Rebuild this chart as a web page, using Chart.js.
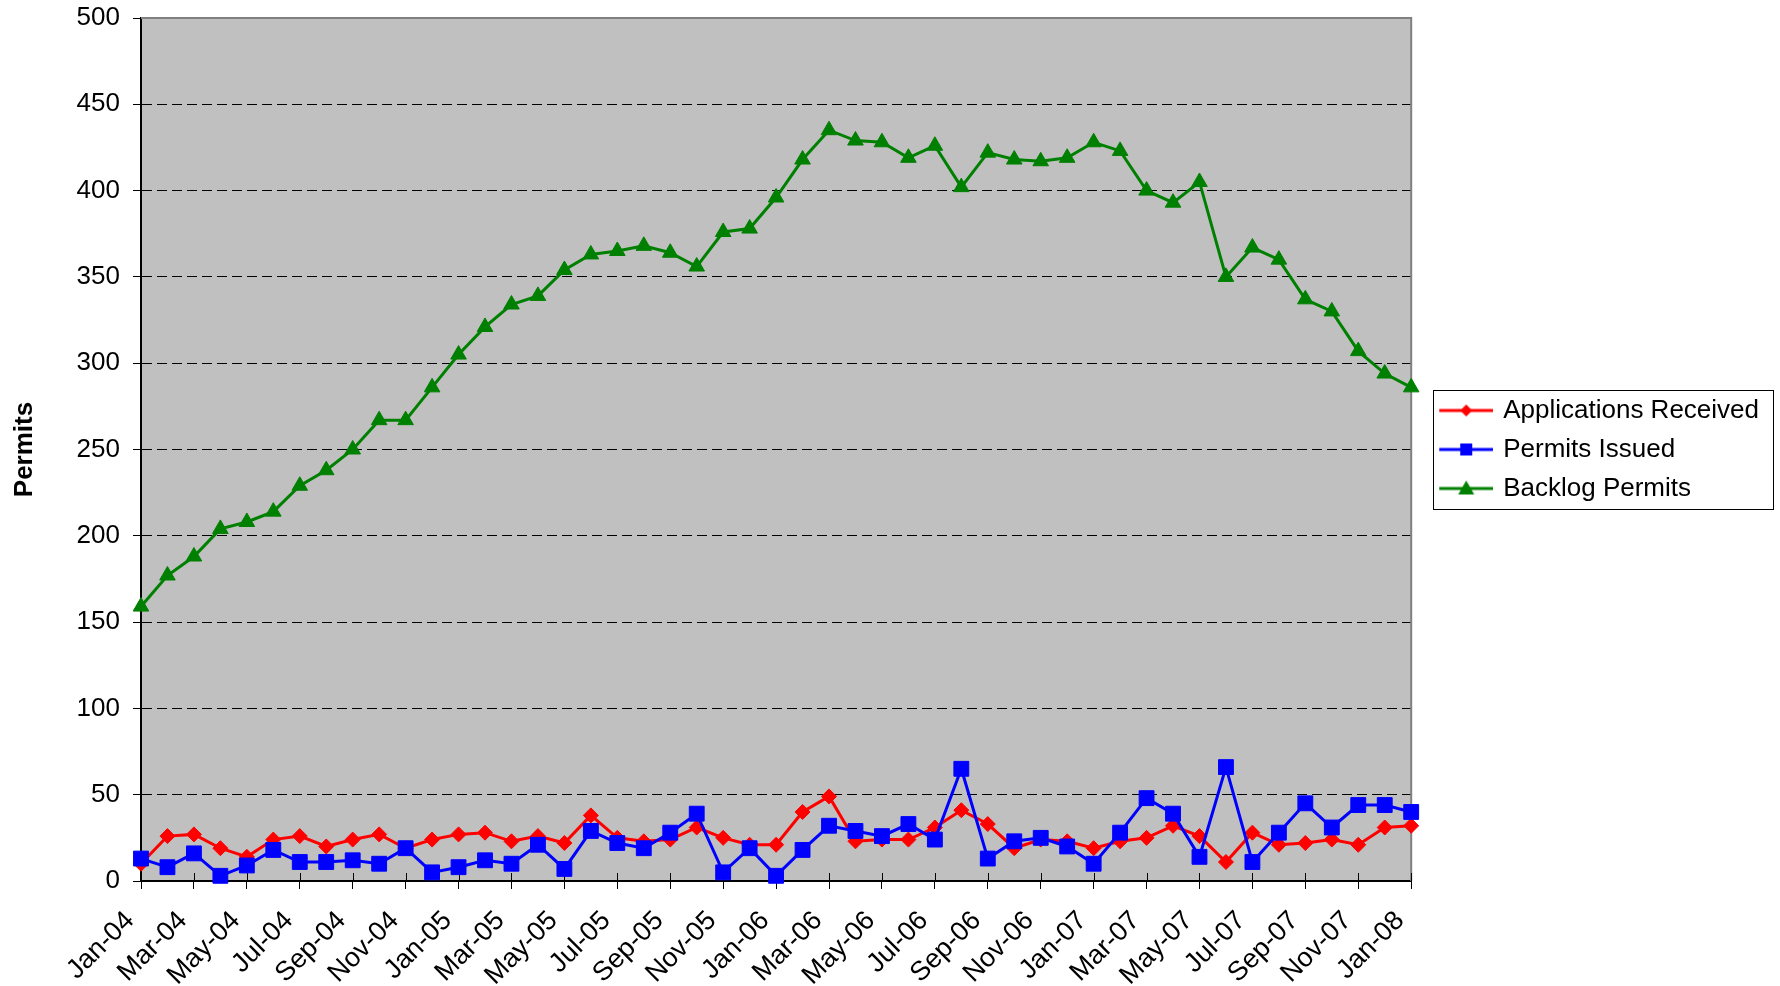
<!DOCTYPE html>
<html>
<head>
<meta charset="utf-8">
<script src="https://cdn.jsdelivr.net/npm/chart.js@4.4.1/dist/chart.umd.min.js"></script>
<style>
  html, body { margin: 0; padding: 0; background: #fff; }
  #permitsCanvas { display: block; }
</style>
</head>
<body>
<canvas id="permitsCanvas" width="1780" height="986"></canvas>
<script>
const months = [
  "Jan-04", "Feb-04", "Mar-04", "Apr-04", "May-04", "Jun-04", "Jul-04", "Aug-04", "Sep-04", "Oct-04", "Nov-04", "Dec-04",
  "Jan-05", "Feb-05", "Mar-05", "Apr-05", "May-05", "Jun-05", "Jul-05", "Aug-05", "Sep-05", "Oct-05", "Nov-05", "Dec-05",
  "Jan-06", "Feb-06", "Mar-06", "Apr-06", "May-06", "Jun-06", "Jul-06", "Aug-06", "Sep-06", "Oct-06", "Nov-06", "Dec-06",
  "Jan-07", "Feb-07", "Mar-07", "Apr-07", "May-07", "Jun-07", "Jul-07", "Aug-07", "Sep-07", "Oct-07", "Nov-07", "Dec-07",
  "Jan-08"
];

const applicationsReceived = [
  10, 26, 27, 19, 14, 24, 26, 20, 24, 27, 19, 24,
  27, 28, 23, 26, 22, 38, 25, 23, 24, 31, 25, 21,
  21, 40, 49, 23, 24, 24, 31, 41, 33, 19, 24, 23,
  19, 23, 25, 32, 26, 11, 28, 21, 22, 24, 21, 31,
  32
];

const permitsIssued = [
  13, 8, 16, 3, 9, 18, 11, 11, 12, 10, 19, 5,
  8, 12, 10, 21, 7, 29, 22, 19, 28, 39, 5, 19,
  3, 18, 32, 29, 26, 33, 24, 65, 13, 23, 25, 20,
  10, 28, 48, 39, 14, 66, 11, 28, 45, 31, 44, 44,
  40
];

const backlogPermits = [
  159, 177, 188, 204, 208, 214, 229, 238, 250, 267, 267, 286,
  305, 321, 334, 339, 354, 363, 365, 368, 364, 356, 376, 378,
  396, 418, 435, 429, 428, 419, 426, 402, 422, 418, 417, 419,
  428, 423, 400, 393, 405, 350, 367, 360, 337, 330, 307, 294,
  286
];

const yTicks = [0, 50, 100, 150, 200, 250, 300, 350, 400, 450, 500];

const FONT = "'Liberation Sans', Arial, sans-serif";

// small line + marker picture used as the legend symbol
function legendIcon(color, shape) {
  const c = document.createElement("canvas");
  c.width = 72;
  c.height = 20;
  const g = c.getContext("2d");
  g.strokeStyle = color;
  g.fillStyle = color;
  g.lineWidth = 3;
  g.beginPath();
  g.moveTo(18, 10);
  g.lineTo(72, 10);
  g.stroke();
  const cx = 45, cy = 10;
  g.beginPath();
  if (shape === "diamond") {
    g.moveTo(cx, cy - 6); g.lineTo(cx + 6, cy); g.lineTo(cx, cy + 6); g.lineTo(cx - 6, cy);
  } else if (shape === "square") {
    g.rect(cx - 6, cy - 6, 12, 12);
  } else {
    g.moveTo(cx, cy - 8); g.lineTo(cx + 8, cy + 6); g.lineTo(cx - 8, cy + 6);
  }
  g.closePath();
  g.fill();
  return c;
}

const icons = [
  legendIcon("#FF0000", "diamond"),
  legendIcon("#0000FF", "square"),
  legendIcon("#008000", "triangle")
];

const plotFrame = {
  id: "plotFrame",
  beforeDraw(chart) {
    const { ctx, chartArea: a } = chart;
    ctx.save();
    ctx.fillStyle = "#C0C0C0";
    ctx.fillRect(a.left, a.top, a.width, a.height);
    ctx.restore();
  },
  beforeDatasetsDraw(chart) {
    const { ctx, chartArea: a } = chart;
    const x = chart.scales.x;
    ctx.save();
    ctx.strokeStyle = "#808080";
    ctx.lineWidth = 2;
    ctx.beginPath();
    ctx.moveTo(a.left, a.top);
    ctx.lineTo(a.right, a.top);
    ctx.lineTo(a.right, a.bottom);
    ctx.stroke();
    // the x tick marks cross the axis
    ctx.strokeStyle = "#000";
    ctx.lineWidth = 1;
    x.ticks.forEach((t, i) => {
      const px = Math.round(x.getPixelForTick(i)) + 0.5;
      ctx.beginPath();
      ctx.moveTo(px, a.bottom - 8);
      ctx.lineTo(px, a.bottom);
      ctx.stroke();
    });
    ctx.restore();
  },
  afterDraw(chart) {
    const boxes = chart.legend.legendHitBoxes;
    if (!boxes || !boxes.length) return;
    const { ctx } = chart;
    const first = boxes[0], last = boxes[boxes.length - 1];
    const right = Math.max(...boxes.map(b => b.left + b.width));
    const l = first.left + 9, t = first.top - 8;
    ctx.save();
    ctx.strokeStyle = "#000";
    ctx.lineWidth = 1;
    ctx.strokeRect(Math.round(l) + 0.5, Math.round(t) + 0.5,
      Math.round(right + 14 - l), Math.round(last.top + last.height + 7 - t));
    ctx.restore();
  }
};

function series(label, data, color, style, radius, order) {
  return {
    label: label,
    data: data,
    borderColor: color,
    backgroundColor: color,
    borderWidth: 3,
    pointStyle: style,
    pointRadius: radius,
    pointHoverRadius: radius,
    pointBackgroundColor: color,
    pointBorderColor: color,
    pointBorderWidth: 1,
    tension: 0,
    clip: false,
    order: order
  };
}

const permitsChart = new Chart(document.getElementById("permitsCanvas"), {
  type: "line",
  data: {
    labels: months,
    datasets: [
      series("Applications Received", applicationsReceived, "#FF0000", "rectRot", 7.5, 3),
      series("Permits Issued", permitsIssued, "#0000FF", "rect", 10.5, 2),
      series("Backlog Permits", backlogPermits, "#008000", "triangle", 9, 1)
    ]
  },
  plugins: [plotFrame],
  options: {
    responsive: false,
    animation: false,
    devicePixelRatio: 1,
    layout: { padding: { top: 18, right: 11, bottom: 0, left: 0 } },
    plugins: {
      tooltip: { enabled: false },
      legend: {
        position: "right",
        fullSize: false,
        labels: {
          color: "#000",
          font: { family: FONT, size: 26 },
          usePointStyle: true,
          pointStyleWidth: 66,
          padding: 13,
          generateLabels: (chart) => chart.data.datasets.map((ds, i) => ({
            text: ds.label,
            pointStyle: icons[i],
            fillStyle: "transparent",
            strokeStyle: "transparent",
            lineWidth: 0,
            hidden: false,
            datasetIndex: i,
            fontColor: "#000"
          }))
        }
      }
    },
    scales: {
      x: {
        offset: false,
        afterBuildTicks: (scale) => {
          scale.ticks = scale.ticks.filter((t, i) => i % 2 === 0);
        },
        afterFit: (scale) => {
          scale.height = 105;
          scale.paddingLeft = 0;
          scale.paddingRight = 0;
        },
        grid: {
          drawOnChartArea: false,
          drawTicks: true,
          tickLength: 8,
          tickColor: "#000"
        },
        border: { color: "#000", width: 2 },
        ticks: {
          autoSkip: false,
          minRotation: 45,
          maxRotation: 45,
          padding: 16,
          labelOffset: -11,
          color: "#000",
          font: { family: FONT, size: 27 }
        }
      },
      y: {
        min: 0,
        max: 500,
        afterBuildTicks: (scale) => {
          scale.ticks = yTicks.map(v => ({ value: v }));
        },
        afterFit: (scale) => {
          scale.width = 141;
          scale.paddingTop = 0;
          scale.paddingBottom = 0;
        },
        grid: {
          color: "#000",
          lineWidth: 1,
          tickLength: 8,
          tickColor: "#000"
        },
        border: { color: "#000", width: 2, dash: [10, 5] },
        ticks: {
          padding: 13,
          color: "#000",
          font: { family: FONT, size: 26 }
        },
        title: {
          display: true,
          text: "Permits",
          color: "#000",
          font: { family: FONT, size: 26, weight: "bold" },
          padding: { top: 9, bottom: 0 }
        }
      }
    }
  }
});
</script>
</body>
</html>
